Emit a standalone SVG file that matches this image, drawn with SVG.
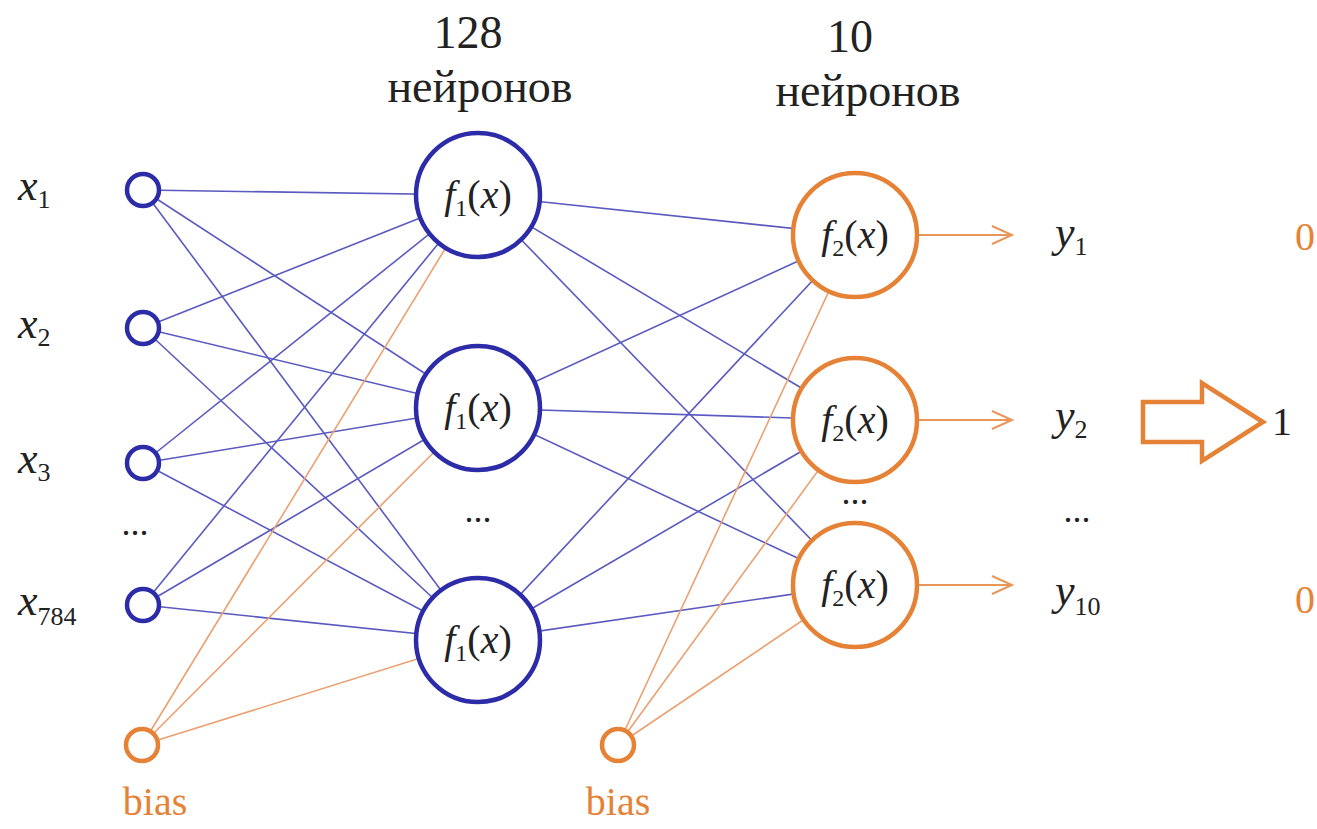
<svg xmlns="http://www.w3.org/2000/svg" width="1317" height="829" viewBox="0 0 1317 829" font-family="'Liberation Serif', 'DejaVu Serif', serif">
<style>
.bl{stroke:#5a5ac0;stroke-width:1.6;fill:none}
.or{stroke:#eba070;stroke-width:1.6;fill:none}
.in{fill:#fff;stroke:#2c2ca8;stroke-width:4.5}
.hid{fill:#fff;stroke:#2c2ca8;stroke-width:4.5}
.out{fill:#fff;stroke:#e58235;stroke-width:4.5}
.bs{fill:#fff;stroke:#e58235;stroke-width:4.5}
.t{fill:#222}
.i{font-style:italic}
.ot{fill:#e58235}
.arr{stroke:#e8965a;stroke-width:2;fill:none}
</style>
<g id="connectors">
<line class="bl" x1="143" y1="190" x2="478" y2="195"/>
<line class="bl" x1="143" y1="190" x2="478" y2="408"/>
<line class="bl" x1="143" y1="190" x2="478" y2="640"/>
<line class="bl" x1="143" y1="328" x2="478" y2="195"/>
<line class="bl" x1="143" y1="328" x2="478" y2="408"/>
<line class="bl" x1="143" y1="328" x2="478" y2="640"/>
<line class="bl" x1="143" y1="463" x2="478" y2="195"/>
<line class="bl" x1="143" y1="463" x2="478" y2="408"/>
<line class="bl" x1="143" y1="463" x2="478" y2="640"/>
<line class="bl" x1="143" y1="605" x2="478" y2="195"/>
<line class="bl" x1="143" y1="605" x2="478" y2="408"/>
<line class="bl" x1="143" y1="605" x2="478" y2="640"/>
<line class="or" x1="142" y1="745" x2="478" y2="195"/>
<line class="or" x1="142" y1="745" x2="478" y2="408"/>
<line class="or" x1="142" y1="745" x2="478" y2="640"/>
<line class="bl" x1="478" y1="195" x2="855" y2="235"/>
<line class="bl" x1="478" y1="195" x2="855" y2="420"/>
<line class="bl" x1="478" y1="195" x2="855" y2="585"/>
<line class="bl" x1="478" y1="408" x2="855" y2="235"/>
<line class="bl" x1="478" y1="408" x2="855" y2="420"/>
<line class="bl" x1="478" y1="408" x2="855" y2="585"/>
<line class="bl" x1="478" y1="640" x2="855" y2="235"/>
<line class="bl" x1="478" y1="640" x2="855" y2="420"/>
<line class="bl" x1="478" y1="640" x2="855" y2="585"/>
<line class="or" x1="618" y1="745" x2="855" y2="235"/>
<line class="or" x1="618" y1="745" x2="855" y2="420"/>
<line class="or" x1="618" y1="745" x2="855" y2="585"/>
<path class="arr" d="M917 235H1010M992 226L1012 235L992 244"/>
<path class="arr" d="M917 420H1010M992 411L1012 420L992 429"/>
<path class="arr" d="M917 585H1010M992 576L1012 585L992 594"/>
</g>
<g id="header">
<text class="t" x="468" y="48" font-size="46" text-anchor="middle" font-family="Liberation Serif">128</text>
<text class="t" x="480" y="102" font-size="46" text-anchor="middle">нейронов</text>
<text class="t" x="850" y="52" font-size="46" text-anchor="middle">10</text>
<text class="t" x="868" y="106" font-size="46" text-anchor="middle">нейронов</text>
</g>
<g id="x1"><circle class="in" cx="143" cy="190" r="16"/><text class="t" x="18" y="200" font-size="44"><tspan class="i">x</tspan><tspan font-size="26" dy="8">1</tspan></text></g>
<g id="x2"><circle class="in" cx="143" cy="328" r="16"/><text class="t" x="18" y="338" font-size="44"><tspan class="i">x</tspan><tspan font-size="26" dy="8">2</tspan></text></g>
<g id="x3"><circle class="in" cx="143" cy="463" r="16"/><text class="t" x="18" y="473" font-size="44"><tspan class="i">x</tspan><tspan font-size="26" dy="8">3</tspan></text></g>
<g id="xdots"><text class="t" x="135" y="535" font-size="36" text-anchor="middle">...</text></g>
<g id="x784"><circle class="in" cx="143" cy="605" r="16"/><text class="t" x="18" y="615" font-size="44"><tspan class="i">x</tspan><tspan font-size="26" dy="10">784</tspan></text></g>
<g id="bias1"><circle class="bs" cx="142" cy="745" r="16"/><text class="ot" x="155" y="815" font-size="40" text-anchor="middle">bias</text></g>
<g id="h1"><circle class="hid" cx="478" cy="195" r="62"/><text class="t" x="478" y="208" font-size="40" text-anchor="middle"><tspan class="i">f</tspan><tspan font-size="24" dy="8">1</tspan><tspan dy="-8">(</tspan><tspan class="i">x</tspan>)</text></g>
<g id="h2"><circle class="hid" cx="478" cy="408" r="62"/><text class="t" x="478" y="421" font-size="40" text-anchor="middle"><tspan class="i">f</tspan><tspan font-size="24" dy="8">1</tspan><tspan dy="-8">(</tspan><tspan class="i">x</tspan>)</text></g>
<g id="hdots"><text class="t" x="478" y="522" font-size="36" text-anchor="middle">...</text></g>
<g id="h3"><circle class="hid" cx="478" cy="640" r="62"/><text class="t" x="478" y="653" font-size="40" text-anchor="middle"><tspan class="i">f</tspan><tspan font-size="24" dy="8">1</tspan><tspan dy="-8">(</tspan><tspan class="i">x</tspan>)</text></g>
<g id="bias2"><circle class="bs" cx="618" cy="745" r="16"/><text class="ot" x="618" y="815" font-size="40" text-anchor="middle">bias</text></g>
<g id="o1"><circle class="out" cx="855" cy="235" r="62"/><text class="t" x="855" y="248" font-size="40" text-anchor="middle"><tspan class="i">f</tspan><tspan font-size="24" dy="8">2</tspan><tspan dy="-8">(</tspan><tspan class="i">x</tspan>)</text></g>
<g id="o2"><circle class="out" cx="855" cy="420" r="62"/><text class="t" x="855" y="433" font-size="40" text-anchor="middle"><tspan class="i">f</tspan><tspan font-size="24" dy="8">2</tspan><tspan dy="-8">(</tspan><tspan class="i">x</tspan>)</text></g>
<g id="odots"><text class="t" x="855" y="504" font-size="36" text-anchor="middle">...</text></g>
<g id="o3"><circle class="out" cx="855" cy="585" r="62"/><text class="t" x="855" y="598" font-size="40" text-anchor="middle"><tspan class="i">f</tspan><tspan font-size="24" dy="8">2</tspan><tspan dy="-8">(</tspan><tspan class="i">x</tspan>)</text></g>
<g id="y1"><text class="t" x="1055" y="247" font-size="44"><tspan class="i">y</tspan><tspan font-size="26" dy="8">1</tspan></text><text class="ot" x="1295" y="250" font-size="40">0</text></g>
<g id="y2"><text class="t" x="1055" y="430" font-size="44"><tspan class="i">y</tspan><tspan font-size="26" dy="8">2</tspan></text>
<path d="M1143 402H1202V383L1263 422L1202 461V442H1143Z" fill="#fff" stroke="#e58235" stroke-width="4.5" stroke-linejoin="miter"/>
<text class="t" x="1272" y="435" font-size="40" fill="#444">1</text></g>
<g id="ydots"><text class="t" x="1077" y="522" font-size="36" text-anchor="middle">...</text></g>
<g id="y10"><text class="t" x="1055" y="605" font-size="44"><tspan class="i">y</tspan><tspan font-size="26" dy="10">10</tspan></text><text class="ot" x="1295" y="613" font-size="40">0</text></g>
</svg>
